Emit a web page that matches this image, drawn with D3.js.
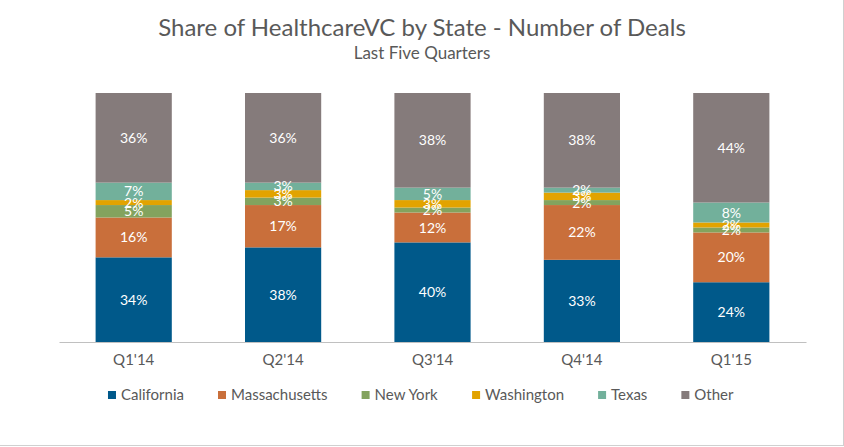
<!DOCTYPE html>
<html><head><meta charset="utf-8">
<script src="https://cdn.jsdelivr.net/npm/d3@7"></script>
<style>body{margin:0;background:#fff}svg{display:block}text{font-family:Lato,"Open Sans",sans-serif}</style>
</head><body>
<svg id="c" width="844" height="447"></svg>
<script>
const quarters = ["Q1'14","Q2'14","Q3'14","Q4'14","Q1'15"];
const states = ["California","Massachusetts","New York","Washington","Texas","Other"];
const california    = [34,38,40,33,24];
const massachusetts = [16,17,12,22,20];
const newYork       = [5,3,2,2,2];
const washington    = [2,3,3,3,2];
const texas         = [7,3,5,2,8];
const other         = [36,36,38,38,44];
const colors = ["#00598a","#c96f3b","#83a35e","#e2a300","#72b09b","#857b7b"];

const seriesVals = [california,massachusetts,newYork,washington,texas,other];
const table = quarters.map((q,i)=>{const o={q};states.forEach((s,j)=>o[s]=seriesVals[j][i]);return o;});
const stack = d3.stack().keys(states)(table);

const svg = d3.select("#c");
const x = d3.scaleBand().domain(quarters).range([59,806]).paddingInner(0.49).paddingOuter(0.245);
const y = d3.scaleLinear().domain([0,100]).range([342,93]);

svg.append("text").attr("x",422).attr("y",36).attr("text-anchor","middle")
  .attr("font-size",24).attr("fill","#595959").text("Share of HealthcareVC by State - Number of Deals");
svg.append("text").attr("x",422).attr("y",59).attr("text-anchor","middle")
  .attr("font-size",17).attr("fill","#595959").text("Last Five Quarters");

const g = svg.append("g");
stack.forEach((layer,j)=>{
  g.selectAll(null).data(layer).enter().append("rect")
    .attr("x",d=>x(d.data.q)).attr("width",x.bandwidth())
    .attr("y",d=>y(d[1])).attr("height",d=>y(d[0])-y(d[1]))
    .attr("fill",colors[j]);
});
stack.forEach((layer,j)=>{
  g.selectAll(null).data(layer).enter().append("text")
    .attr("x",d=>x(d.data.q)+x.bandwidth()/2)
    .attr("y",d=>(y(d[0])+y(d[1]))/2)
    .attr("dy","0.36em").attr("text-anchor","middle")
    .attr("font-size",14).attr("fill","#fff")
    .text(d=>(d[1]-d[0])+"%");
});

const ax = svg.append("g").attr("transform","translate(0,342)")
  .call(d3.axisBottom(x).tickSize(0).tickPadding(12));
ax.select(".domain").attr("stroke","#c0c0c0").attr("stroke-width",1.2);
ax.selectAll("text").attr("font-size",15).attr("fill","#595959").style("font-family","Lato,'Open Sans',sans-serif");

const lg = svg.append("g");
const items = lg.selectAll("g").data(states).enter().append("g");
items.append("rect").attr("width",8).attr("height",8).attr("y",-4).attr("fill",(d,i)=>colors[i]);
items.append("text").attr("x",13).attr("dy","0.36em").attr("font-size",15).attr("fill","#595959").text(d=>d);
let cx = 0; const pos=[];
items.each(function(){const w=this.getBBox().width;pos.push(cx);cx+=w+34;});
const total = cx-34;
const start = 421 - total/2;
items.attr("transform",(d,i)=>`translate(${start+pos[i]},395)`);

svg.append("line").attr("x1",843.5).attr("x2",843.5).attr("y1",0).attr("y2",446).attr("stroke","#d0d0d0");
svg.append("line").attr("x1",0).attr("x2",844).attr("y1",445.5).attr("y2",445.5).attr("stroke","#d0d0d0");
</script>
</body></html>
